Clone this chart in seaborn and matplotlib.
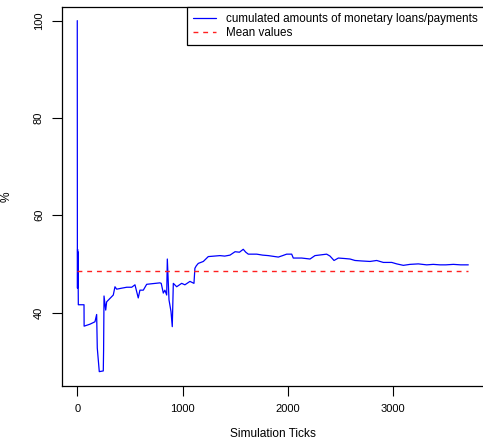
import numpy as np
import pandas as pd
import seaborn as sns
import matplotlib
matplotlib.use("Agg")
import matplotlib.pyplot as plt

# ---- data ----
ticks = [0, 1, 2, 3, 4, 5, 6, 8, 10, 64, 65, 120, 168, 184, 190, 209, 247, 250,
         254, 270, 279, 342, 358, 374, 420, 470, 517, 548, 579, 595, 627, 659,
         700, 785, 797, 817, 832, 849, 855, 871, 890, 902, 912, 944, 991, 1022,
         1070, 1108, 1117, 1130, 1149, 1197, 1244, 1300, 1355, 1400, 1450, 1498,
         1540, 1576, 1600, 1624, 1704, 1760, 1814, 1909, 1950, 1988, 2036, 2051,
         2131, 2210, 2257, 2368, 2400, 2438, 2479, 2540, 2590, 2637, 2700, 2780,
         2843, 2906, 2986, 3033, 3096, 3160, 3238, 3318, 3380, 3444, 3500, 3571,
         3640, 3713]
loans_pct = [100.0, 53.0, 45.0, 53.0, 47.0, 52.5, 45.5, 48.0, 41.6, 41.6, 37.2,
             37.6, 38.1, 39.6, 32.7, 27.85, 28.0, 32.3,
             43.4, 40.5, 42.2, 43.6, 45.3, 44.8, 45.0, 45.2, 45.2, 45.7, 43.0, 44.6,
             44.6, 45.8, 45.9, 46.1, 46.0, 44.0, 44.6, 43.6, 51.0, 42.6, 40.2, 37.1,
             46.0, 45.3, 46.0, 45.7, 46.4, 46.0, 49.1, 49.6, 50.1, 50.5, 51.5, 51.6,
             51.7, 51.6, 51.8, 52.5, 52.4, 53.0, 52.4, 52.0, 52.0, 51.8, 51.7, 51.4,
             51.7, 52.0, 52.0, 51.2, 51.2, 51.0, 51.7, 52.0, 51.6, 50.7, 51.2, 51.1,
             51.0, 50.7, 50.6, 50.5, 50.7, 50.3, 50.3, 50.0, 49.7, 49.9, 50.0, 49.8,
             49.9, 49.8, 49.8, 49.9, 49.8, 49.8]
mean_ticks = [0, 3713]
mean_pct = [48.5, 48.5]

series_label = "cumulated amounts of monetary loans/payments"
mean_label = "Mean values"
x_tick_values = [0, 1000, 2000, 3000]
y_tick_values = [40, 60, 80, 100]

df = pd.DataFrame({"tick": ticks, "pct": loans_pct})
dm = pd.DataFrame({"tick": mean_ticks, "pct": mean_pct})

sns.set_style("white")
plt.rcParams["font.family"] = ["Liberation Sans", "DejaVu Sans"]
plt.rcParams["text.color"] = "black"
plt.rcParams["axes.labelcolor"] = "black"
plt.rcParams["xtick.color"] = "black"
plt.rcParams["ytick.color"] = "black"

fig = plt.figure(figsize=(4.83, 4.41), dpi=100)
ax = fig.add_axes([62 / 483, 55 / 441, 422 / 483, 379 / 441])

sns.lineplot(data=df, x="tick", y="pct", ax=ax, color="#0000FF", lw=0.9,
             sort=False, estimator=None, label=series_label)
sns.lineplot(data=dm, x="tick", y="pct", ax=ax, color="#FF2020", lw=1.0,
             sort=False, estimator=None, label=mean_label, linestyle=(0, (3.5, 3.5)))

ax.set_xlim(-145, 3862)
ax.set_ylim(24.9, 102.8)
ax.set_xticks(x_tick_values)
ax.set_yticks(y_tick_values)
ax.set_xticklabels([str(v) for v in x_tick_values], fontsize=8.0)
ax.set_yticklabels([str(v) for v in y_tick_values], fontsize=8.0,
                   rotation=90, va="center")
ax.tick_params(axis="both", direction="out", length=7, width=0.8,
               color="black", pad=6, bottom=True, left=True)
for s in ax.spines.values():
    s.set_color("black")
    s.set_linewidth(0.9)
ax.set_xlabel("Simulation Ticks", fontsize=8.6, labelpad=10)
ax.set_ylabel("%", fontsize=8.6)
ax.yaxis.set_label_coords((13 - 62) / 422, 0.5)

leg = ax.legend(loc="upper right", fontsize=8.4, frameon=True, fancybox=False,
                framealpha=1, edgecolor="black", borderaxespad=0,
                handlelength=2.0, handletextpad=0.8, borderpad=0.55,
                labelspacing=0.1)
leg.get_frame().set_linewidth(0.9)

fig.savefig("out.png", dpi=100)
